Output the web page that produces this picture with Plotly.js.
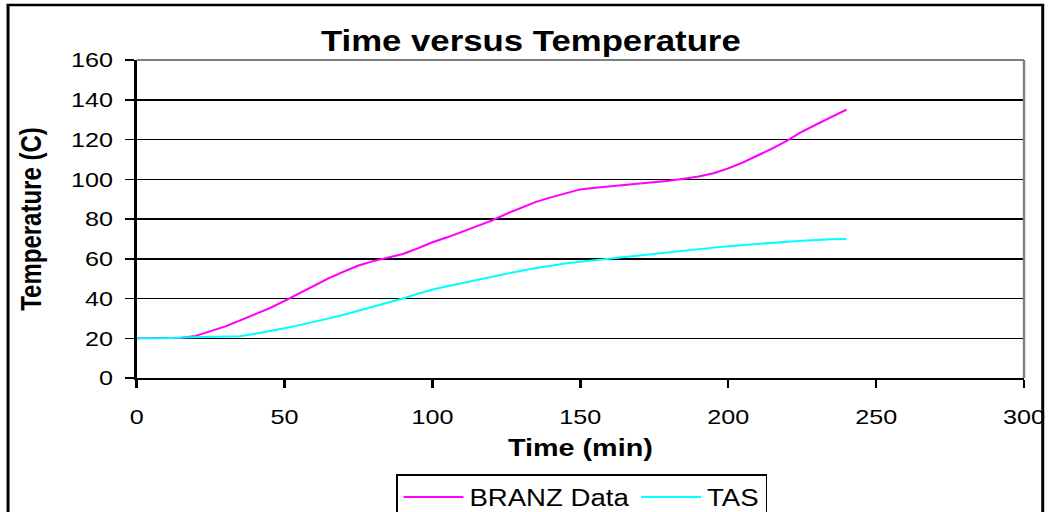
<!DOCTYPE html>
<html>
<head>
<meta charset="utf-8">
<script src="https://cdn.plot.ly/plotly-3.0.1.min.js"></script>
<style>
  html, body { margin: 0; padding: 0; background: #fff; overflow: hidden; }
  /* the chart is laid out narrower and widened horizontally to fill the window */
  #wrap { width: 874px; height: 512px; transform: scaleX(1.19908); transform-origin: 0 0; }
  #chart { width: 874px; height: 512px; }
</style>
</head>
<body>
<div id="wrap"><div id="chart"></div></div>
<script>
// Time in minutes
const timeMin = [0, 5, 10, 15, 20, 25, 30, 35, 40, 45, 50, 55, 60, 65, 70, 75, 80, 85, 90, 95,
  100, 105, 110, 115, 120, 125, 130, 135, 140, 145, 150, 155, 160, 165, 170, 175, 180, 185,
  190, 195, 200, 205, 210, 215, 220, 225, 230, 235, 240];

// Measured temperatures (C)
const branzData = [20, 20, 20, 20.3, 21.2, 23.4, 26, 29, 32, 35.2, 38.8, 42.5, 46.2, 50.3, 53.5,
  56.6, 58.8, 60.6, 62.4, 65.2, 68.3, 70.8, 73.6, 76.3, 79.2, 82.6, 85.8, 88.6, 90.9, 93, 94.9, 95.7,
  96.4, 97.1, 97.8, 98.5, 99.2, 100.3, 101.4, 103, 105.5, 108.5, 112, 115.5, 119.5, 124, 127.7,
  131.3, 135];

// Simulated temperatures (C)
const tasData = [20, 20, 20, 20.4, 20.5, 20.5, 20.6, 21, 22.3, 23.5, 25, 26.6, 28.2, 30, 31.8,
  33.8, 35.8, 37.8, 40, 42.3, 44.5, 46.2, 47.8, 49.4, 51, 52.6, 54, 55.3, 56.5, 57.6, 58.5,
  59.3, 60.2, 61, 61.9, 62.7, 63.5, 64.3, 65, 65.6, 66.3, 66.9, 67.6, 68.1, 68.6, 69, 69.5,
  69.8, 70];

const seriesNames = ['BRANZ Data', 'TAS'];
const xTicks = [0, 50, 100, 150, 200, 250, 300];
const yTicks = [0, 20, 40, 60, 80, 100, 120, 140, 160];

const FONT = '"Liberation Sans", Arial, sans-serif';

const traces = [
  { x: timeMin, y: branzData, name: seriesNames[0], type: 'scatter', mode: 'lines',
    line: { color: '#ff00ff', width: 2 } },
  { x: timeMin, y: tasData, name: seriesNames[1], type: 'scatter', mode: 'lines',
    line: { color: '#00ffff', width: 2 } }
];

const layout = {
  width: 874, height: 512,
  margin: { l: 114, r: 20, t: 60, b: 134 },
  paper_bgcolor: '#ffffff', plot_bgcolor: '#ffffff',
  font: { family: FONT, color: '#000' },
  title: {
    text: '<b>Time versus Temperature</b>',
    font: { family: FONT, size: 29, color: '#000' },
    xref: 'container', x: 0.5065, xanchor: 'center',
    yref: 'container', y: 0.92, yanchor: 'middle'
  },
  xaxis: {
    range: [0, 300], tickvals: xTicks, ticktext: xTicks.map(String),
    showgrid: false, zeroline: false,
    showline: true, linecolor: '#000', linewidth: 2,
    ticks: 'outside', ticklen: 8, tickwidth: 2, tickcolor: '#000',
    ticklabelstandoff: 11,
    tickfont: { family: FONT, size: 21, color: '#000' },
    title: { text: '<b>Time (min)</b>', font: { family: FONT, size: 24, color: '#000' }, standoff: 12 },
    automargin: false, fixedrange: true
  },
  yaxis: {
    range: [0, 160], tickvals: yTicks, ticktext: yTicks.map(String),
    showgrid: true, gridcolor: '#000', gridwidth: 1.5, zeroline: false,
    showline: true, linecolor: '#000', linewidth: 2,
    ticks: 'outside', ticklen: 7.5, tickwidth: 1.5, tickcolor: '#000',
    ticklabelstandoff: 6,
    tickfont: { family: FONT, size: 21, color: '#000' },
    title: { text: '<b>Temperature (C)</b>', font: { family: FONT, size: 24, color: '#000' }, standoff: 18 },
    automargin: false, fixedrange: true
  },
  showlegend: true,
  legend: {
    orientation: 'h',
    xref: 'container', x: 0.3776, xanchor: 'left',
    yref: 'container', y: 0.074, yanchor: 'top',
    itemwidth: 50,
    bordercolor: '#000', borderwidth: 1.5, bgcolor: '#fff',
    font: { family: FONT, size: 23, color: '#000' }
  },
  shapes: [
    // plot area frame on the top and right
    { type: 'line', xref: 'paper', yref: 'paper', x0: 0, x1: 1, y0: 1, y1: 1,
      line: { color: '#808080', width: 2 } },
    { type: 'line', xref: 'paper', yref: 'paper', x0: 1, x1: 1, y0: 0, y1: 1,
      line: { color: '#808080', width: 2 } },
    // outer chart frame
    { type: 'rect', xref: 'paper', yref: 'paper', x0: -0.145, x1: 1.0211, y0: -0.5, y1: 1.173,
      line: { color: '#000', width: 2.5 }, fillcolor: 'rgba(0,0,0,0)' }
  ]
};

Plotly.newPlot('chart', traces, layout, { displayModeBar: false, staticPlot: true });
</script>
</body>
</html>
